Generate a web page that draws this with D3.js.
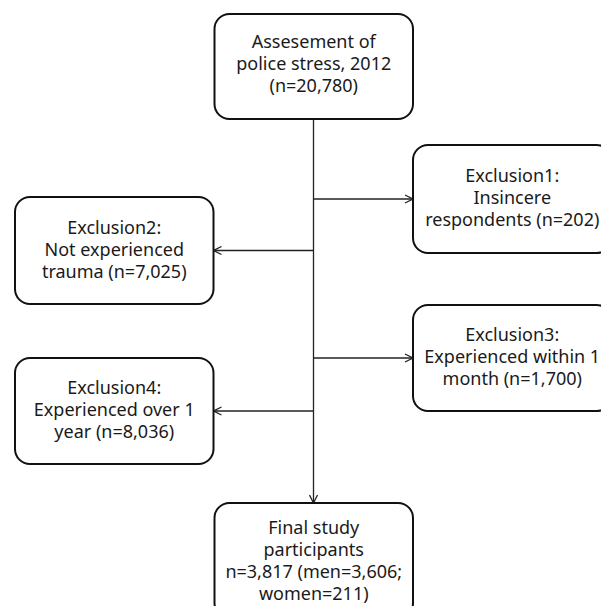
<!DOCTYPE html>
<html>
<head>
<meta charset="utf-8">
<script src="https://cdn.jsdelivr.net/npm/d3@7"></script>
<style>
  html, body { margin: 0; padding: 0; background: #fff; }
  svg { display: block; }
  text { font-family: "Noto Sans", "Open Sans", sans-serif; fill: #1a1a1a; }
</style>
</head>
<body>
<script>
// ---- data ----
const boxIds = ["start", "excl1", "excl2", "excl3", "excl4", "final"];
const boxLines = [
  ["Assesement of", "police stress, 2012", "(n=20,780)"],
  ["Exclusion1:", "Insincere", "respondents (n=202)"],
  ["Exclusion2:", "Not experienced", "trauma (n=7,025)"],
  ["Exclusion3:", "Experienced within 1", "month (n=1,700)"],
  ["Exclusion4:", "Experienced over 1", "year (n=8,036)"],
  ["Final study", "participants", "n=3,817 (men=3,606;", "women=211)"]
];
const counts = [20780, 202, 7025, 1700, 8036, 3817];
const boxSide = ["center", "right", "left", "right", "left", "center"];

// ---- layout ----
const W = 601, H = 606;
const svg = d3.select("body").append("svg").attr("width", W).attr("height", H);

const xCol = d3.scaleOrdinal().domain(["left", "center", "right"]).range([15, 214.5, 413]);
const boxW = 198.5;
const boxTop = d3.scaleOrdinal().domain(boxIds).range([14, 145, 197, 305, 358, 503]);
const boxBot = d3.scaleOrdinal().domain(boxIds).range([119, 253, 304, 411, 464, 618]);
const spineX = 313.5;
const lineH = 22;
const fs = 18;

const defs = svg.append("defs");
defs.append("marker")
  .attr("id", "arr")
  .attr("viewBox", "0 0 10 10")
  .attr("refX", 10).attr("refY", 5)
  .attr("markerWidth", 10).attr("markerHeight", 10)
  .attr("markerUnits", "userSpaceOnUse")
  .attr("orient", "auto")
  .append("path")
  .attr("d", "M2,1 L10,5 L2,9")
  .attr("fill", "none").attr("stroke", "#222").attr("stroke-width", 1.3);

const boxes = boxIds.map((id, i) => ({
  id, lines: boxLines[i], count: counts[i], side: boxSide[i],
  x: xCol(boxSide[i]), y: boxTop(id), h: boxBot(id) - boxTop(id)
}));

// spine
svg.append("line")
  .attr("x1", spineX).attr("x2", spineX)
  .attr("y1", boxBot("start")).attr("y2", boxTop("final"))
  .attr("stroke", "#222").attr("stroke-width", 1.3)
  .attr("marker-end", "url(#arr)");

// branch arrows
boxes.filter(b => b.side !== "center").forEach(b => {
  const cy = b.y + b.h / 2;
  const xEnd = b.side === "right" ? b.x : b.x + boxW;
  svg.append("line")
    .attr("x1", spineX).attr("x2", xEnd)
    .attr("y1", cy).attr("y2", cy)
    .attr("stroke", "#222").attr("stroke-width", 1.3)
    .attr("marker-end", "url(#arr)");
});

// boxes
const g = svg.selectAll("g.box").data(boxes).join("g").attr("class", "box");
g.append("rect")
  .attr("x", d => d.x).attr("y", d => d.y)
  .attr("width", boxW).attr("height", d => d.h)
  .attr("rx", 15).attr("ry", 15)
  .attr("fill", "#fff").attr("stroke", "#111").attr("stroke-width", 2);

g.each(function(d) {
  const n = d.lines.length;
  const cx = d.x + boxW / 2;
  const cy = d.id === "final" ? d.y + 25 + (n - 1) * lineH / 2
           : d.id === "start" ? d.y + d.h / 2 - 3
           : d.y + d.h / 2 - 1;
  const t = d3.select(this).append("text")
    .attr("text-anchor", "middle")
    .attr("font-size", fs);
  d.lines.forEach((ln, i) => {
    t.append("tspan")
      .attr("x", cx)
      .attr("y", cy + (i - (n - 1) / 2) * lineH)
      .attr("dy", "0.35em")
      .text(ln);
  });
});
</script>
</body>
</html>
